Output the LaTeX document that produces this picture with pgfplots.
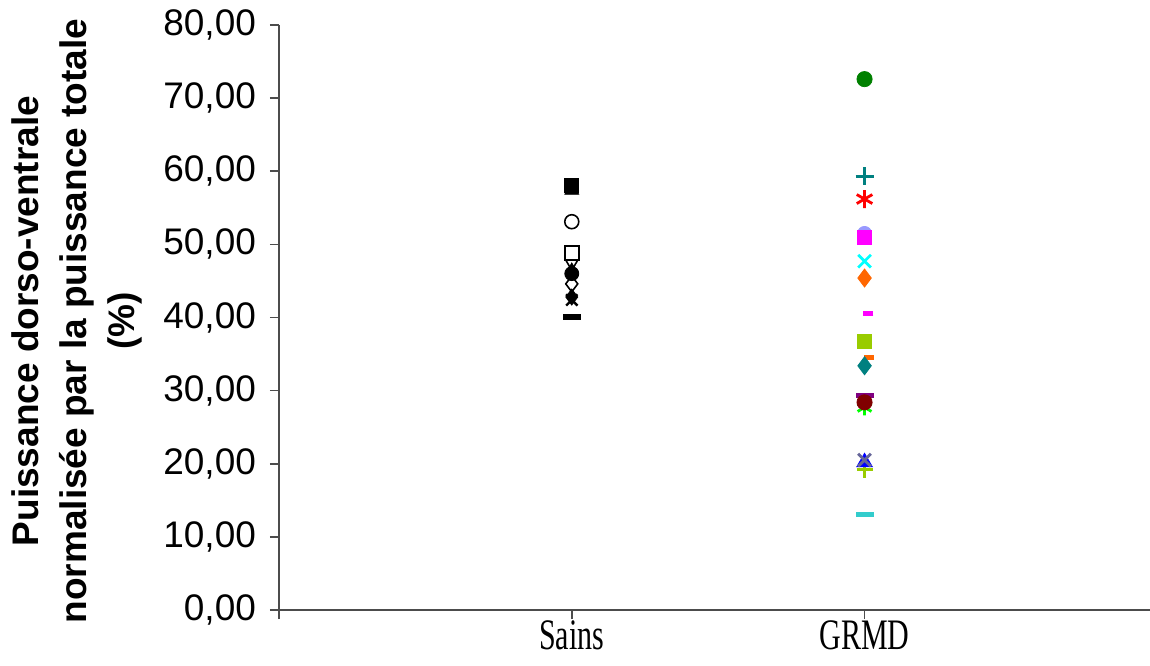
\documentclass[border=0pt]{standalone}
\usepackage{pgfplots}
\pgfplotsset{compat=1.18}
\usepackage{fontspec}
\setmainfont{Liberation Sans}
\newfontfamily\serif{Liberation Serif}
\definecolor{cteal}{RGB}{0,128,128}
\definecolor{cgreen}{RGB}{0,128,0}
\definecolor{corange}{RGB}{255,102,0}
\definecolor{cyg}{RGB}{153,204,0}
\definecolor{clpurple}{RGB}{153,153,255}
\definecolor{cpurple}{RGB}{128,0,128}
\definecolor{cmaroon}{RGB}{128,0,0}
\definecolor{cslate}{RGB}{102,102,153}
\definecolor{cturq}{RGB}{51,204,204}
\definecolor{cmag}{RGB}{255,0,255}
\definecolor{ccyan}{RGB}{0,255,255}
\definecolor{clime}{RGB}{0,255,0}
\definecolor{cred}{RGB}{255,0,0}
\definecolor{cblue}{RGB}{0,0,255}
\begin{document}
\begin{tikzpicture}
\begin{axis}[
  scale only axis,
  width=435.5pt, height=292.5pt,
  xmin=0, xmax=2.975, ymin=0, ymax=80,
  axis x line=bottom, axis y line=left,
  axis line style={-, black!70, line width=0.8pt},
  tick style={black!70, line width=0.8pt},
  major tick length=4.5pt,
  tick align=outside,
  xtick={0,1,2}, xticklabels={,Sains,GRMD},
  xticklabel style={font=\serif\fontsize{15}{17}\selectfont, yscale=1.45, yshift=0.5pt, inner sep=1pt},
  ytick={0,10,...,80},
  yticklabel style={font=\fontsize{18.5}{20}\selectfont, xshift=-3.5pt},
  /pgf/number format/.cd, fixed, fixed zerofill, precision=2, use comma, assume math mode=true,
  /pgfplots/.cd,
  ylabel={\bfseries Puissance dorso-ventrale\\\bfseries normalisée par la puissance totale\\\bfseries (\%)},
  ylabel style={font=\fontsize{18.5}{24}\selectfont, align=center, at={(rel axis cs:-0.2319,0.494)}, anchor=center, rotate=0},
  clip=false,
  every axis plot/.append style={only marks, mark size=3.5pt},
]
% Sains
\addplot[black, mark=triangle*, mark size=4pt] coordinates {(1,57.4)};
\addplot[black, mark=square*] coordinates {(1,58.0)};
\addplot[black, mark=o, thick] coordinates {(1,53.1)};
\addplot[black, mark=square, thick] coordinates {(1,48.8)};
\addplot[black, mark=triangle, thick, mark options={rotate=180}] coordinates {(1,47.4)};
\addplot[black, mark=triangle*] coordinates {(1,46.5)};
\addplot[black, mark=*] coordinates {(1,46.0)};
\addplot[black, mark=diamond, thick, mark size=4pt] coordinates {(1,44.6)};
\addplot[black, mark=diamond*, mark size=4pt] coordinates {(1,42.8)};
\addplot[black, mark=x, line width=1.2pt, mark size=4pt] coordinates {(1,42.4)};
\addplot[black, mark=-, line width=3pt, mark size=4.5pt] coordinates {(1,40.1)};
% GRMD
\addplot[cgreen, mark=*, mark size=3.8pt] coordinates {(2,72.6)};
\addplot[cteal, mark=+, line width=1.4pt, mark size=4.5pt] coordinates {(2,59.3)};
\addplot[cred, mark=asterisk, line width=1.4pt, mark size=4.5pt] coordinates {(2,56.2)};
\addplot[clpurple, mark=*] coordinates {(2,51.5)};
\addplot[cmag, mark=square*] coordinates {(2,50.9)};
\addplot[ccyan, mark=x, line width=1.4pt, mark size=4.5pt] coordinates {(2,47.7)};
\addplot[corange, mark=diamond*, mark size=4.5pt] coordinates {(2,45.4)};
\addplot[cmag, mark=-, line width=2.5pt, mark size=2.5pt] coordinates {(2.013,40.5)};
\addplot[cyg, mark=square*] coordinates {(2,36.8)};
\addplot[corange, mark=-, line width=2.5pt, mark size=2.5pt] coordinates {(2.015,34.5)};
\addplot[cteal, mark=diamond*, mark size=4.5pt] coordinates {(2,33.4)};
\addplot[clime, mark=asterisk, line width=1.4pt, mark size=4pt] coordinates {(2,27.7)};
\addplot[cpurple, mark=-, line width=2.5pt, mark size=4.5pt] coordinates {(2,29.4)};
\addplot[cmaroon, mark=*, mark size=3.8pt] coordinates {(2,28.4)};
\addplot[cyg, mark=+, line width=1.4pt, mark size=4pt] coordinates {(2,19.2)};
\addplot[cblue, mark=triangle*, mark size=4.5pt] coordinates {(2,20.2)};
\addplot[cslate, mark=x, line width=1.4pt, mark size=4.5pt] coordinates {(2,20.5)};
\addplot[cturq, mark=-, line width=2.5pt, mark size=4.5pt] coordinates {(2,13.0)};
\end{axis}
\pgfresetboundingbox
\useasboundingbox (current axis.south west) ++(-139.5pt,-27.5pt) rectangle ++(575pt,332.5pt);
\end{tikzpicture}
\end{document}
